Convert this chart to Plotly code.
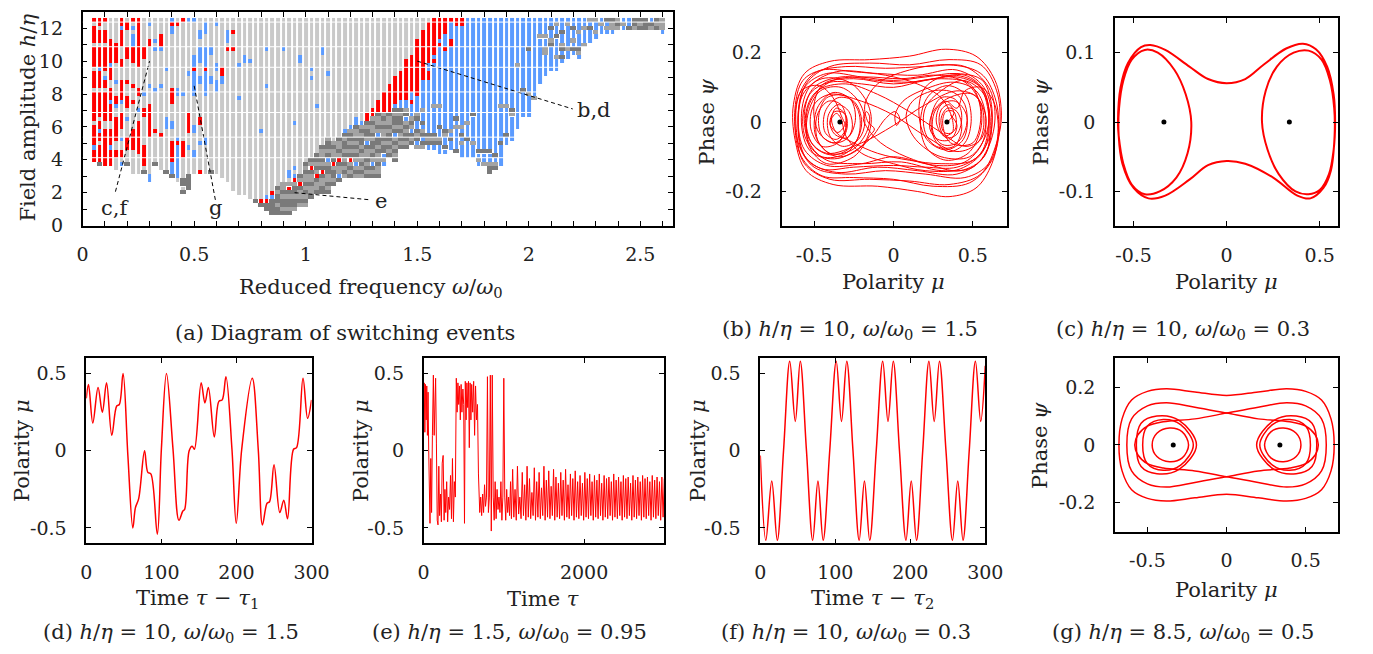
import re
import plotly.graph_objects as go

W, H = 1373, 654
FONT = "DejaVu Serif"
INK = "#222222"
RED = "#ff0000"

# ---------------- (a) diagram of switching events ----------------
# one code per column (omega = 0.05 ... 2.6, step 0.025), run-length coded
# from h = 12.5 downwards in steps of 0.25; below the last run the cell is empty
# l light grey, m mid grey, d dark grey, r red, b blue
omega_first, omega_step = 0.05, 0.025
h_top, h_step, n_rows = 12.5, 0.25, 48
switch_cols = [
    "r1l1r4l1r5l1r4l1r7l1r5b1r3", "r2l1r3l1r5b1r4l1r6l1r2b1r2l1r4d1",
    "r1l2r3l1r6l1b1r2l1r7l2r9", "l5r6b1r3l2r3b1r4l2r4b1r4",
    "l6r5l4b1l3r2b1l2r6l2r2l3", "r2b1r4l3r2l3r5b1l2r4l2b1l2r2l1b1",
    "l1r2l4r3l5r1l3r3l2b1l4r3l3d1", "r1l1b1l1b3r4l5r1l3r1l6r5l6",
    "r12l5r2l3b1l2r8l5", "l7r3l8b1l3r2l7r5l1d1",
    "l1b1l3r2l9b1l4r8l9b2", "l5b1l1b1l9b1l9r1l7d1",
    "l4r3b1l8b1l11r1l8", "l12b1l11b3l10d1",
    "b1r1b2l13r4l4b2l3r5b3d1", "l1r1l15b2l10b1r1b8l1",
    "r1l17b1l11r4l5d2l1d1", "b1l12b1l9r5l3b1l6d4",
    "b1l8b3r1b6l7b2l4b2l4", "l3b2l2b4l3b2l8r2l4b1l6r1",
    "l1b3l3b5r1b6l10b2l7", "l7b2l5b2l21d1",
    "l1b1l9b2l2b3l20", "l12r2b2l23",
    "l3b3l1r1l32", "l3r1l3r1l34",
    "l11b1l7b1l23", "l9b2l32",
    "l10b1l33", "l44d1",
    "l27b1l16r1d1", "l7b1l8b1l26b1r1d2",
    "l42r1b1d4", "l41d1m1d2m1d2",
    "l7b1l32m2d1m1d2m1d1", "l37b2l1m1r1d1m1d2m1d1",
    "l25b1l10b1l1b1r1m1d2m1d2m1", "l9b2l27d1m1r1d1m2d1m1",
    "l35d1m1d1m2d1m1d1m1d1m1", "l12b1l1b1l19d1m1r1d1m2d1m1m1d1",
    "l21b1l11d2m1d1m1r1d1m2d1", "l7b2l22d1m2d1m1d1r1d1m2d2",
    "l13b1l15m1d2m1d1b1m1d2m2d1m1d1", "l30m1d1m2d1r1m1d2m1d1",
    "l29d1m2d1m1r1d1m2b1d1", "l27b1d1m1d2m1d1m1d1m1d1m1",
    "l26b1m1d2m1d1m1d1r1m1d1m1d1", "l24b2d1m2d1m1d1m1d1m1b1m1d1m1",
    "l25b1m1d1m1d2m1d1m2d1m1d1m1", "l23r2d1m1d2m1b1d1m2d1m1d1m1d1",
    "l22r2m1d1m2d1m1d2m1d1m1b1d1m1d1", "l20r3d1m2d1m1b1d2m1d1m2d1m1m1d1",
    "l18r5m1d1m1d1m2d1m1d2b1m1b1", "l16r7d1m2d1m1d2m1d1m1d1",
    "l14r7b1d1m1d2m1d1b1m1d1m1d1m1d1", "l13r7b2d1m1d2m1d1m1d1m1d1",
    "l10r10b2m1d1b1m1d1m1d2m1d1", "l9r9b2r1b3m1d1m1b1d1m1d1",
    "l5r14b4m1d1b2d1m1d1b1m1", "l3r12b7m1b2d1b1m1d1b1d1m1",
    "l1r10b2r2b13d1m1d1b1", "r9b1r1b10m1b6d1m1d1b1",
    "r5b1r1b14m1b4d1b2m1d1b2", "r4b3r1b19d1m1b2d1b1",
    "r1b4r2b20m1b1d1b2", "r2b22d1b1m1b5d1",
    "r2b24m1b1d1b1m1b3", "b25m1b3d1b4",
    "b23d1b6m1b3", "b32d1b1m1b1",
    "b32d1b2m1", "b32d1b2m1d2",
    "b33d1b1m1d1", "b21m1b8d1b5",
    "b21m1b6d1b2", "b22d1m1b6",
    "b11m1b15", "b17d1b6",
    "b7d1b10m1b5", "b19m1",
    "b4m1b11", "b4m1b2m2b5",
    "b2d1b2m1d1b6", "b1m1b2d1b4m1b3",
    "b3d1b2m1d1b1d1b1", "b1m1b5m1b2",
    "b2d1b2m1b1d1b1", "b3m1b3d1m1b1",
    "b2m1b3m1", "m1b1d1b3",
    "m1b2m1b1", "b1m1b2",
    "d1b1m1b1", "d1m2b1",
    "m1d1m1", "b1m1b1",
    "b2d1", "d2m1",
    "d1m1d1", "d3",
    "b1d1m1", "d1m1d1",
    "m3b1",
]
cell_colors = {"l": "#c9c9c9", "r": "#ff0000", "b": "#5b9bff", "m": "#a3a3a3", "d": "#7a7a7a"}
# thin white breaks that run across the raster
row_breaks_h = [12.375, 10.875, 9.625, 8.125, 6.875, 5.375, 4.125]

# dashed pointers: (omega, h) start, end, label, label position
pointers = [
    ((0.147, 2.06), (0.30, 10.0), "c,f", (0.147, 1.06), "center"),
    ((0.595, 1.56), (0.50, 8.5), "g", (0.595, 1.06), "center"),
    ((1.50, 10.0), (2.197, 7.09), "b,d", (2.205, 7.05), "left"),
    ((0.95, 2.0), (1.292, 1.56), "e", (1.30, 1.52), "left"),
]

# ---------------- (b) h/eta = 10, omega/omega0 = 1.5 : (mu, psi) ----------------
fixed_mu = [-0.337, 0.337]
b_path = [
    (0.34, 0.0), (0.38, 0.025), (0.35, 0.05), (0.30, 0.035), (0.29, -0.01), (0.33, -0.045), (0.40, -0.035),
    (0.43, 0.02), (0.39, 0.065), (0.30, 0.07), (0.24, 0.02), (0.26, -0.05), (0.35, -0.085), (0.45, -0.06),
    (0.49, 0.01), (0.45, 0.08), (0.34, 0.105), (0.22, 0.075), (0.17, 0.0), (0.21, -0.075), (0.33, -0.11),
    (0.47, -0.09), (0.55, -0.02), (0.54, 0.06), (0.45, 0.115), (0.28, 0.135), (0.05, 0.125), (-0.18, 0.13),
    (-0.38, 0.12), (-0.51, 0.07), (-0.55, 0.0), (-0.50, -0.07), (-0.38, -0.095), (-0.25, -0.065), (-0.20, 0.0),
    (-0.25, 0.06), (-0.35, 0.07), (-0.43, 0.03), (-0.43, -0.03), (-0.36, -0.05), (-0.30, -0.02), (-0.31, 0.025),
    (-0.37, 0.03), (-0.40, 0.0), (-0.37, -0.035), (-0.29, -0.045), (-0.24, 0.005), (-0.27, 0.065), (-0.38, 0.085),
    (-0.48, 0.04), (-0.49, -0.04), (-0.40, -0.09), (-0.26, -0.08), (-0.17, -0.03), (-0.15, 0.015), (-0.17, 0.03),
    (-0.19, 0.01), (-0.16, -0.02), (-0.08, -0.06), (0.08, -0.10), (0.27, -0.125), (0.45, -0.115), (0.56, -0.06),
    (0.58, 0.02), (0.52, 0.09), (0.38, 0.115), (0.20, 0.095), (0.06, 0.06), (0.01, 0.02), (0.02, -0.01),
    (0.04, 0.01), (0.01, 0.03), (-0.05, 0.01), (-0.15, -0.05), (-0.35, -0.105), (-0.52, -0.085), (-0.58, 0.0),
    (-0.53, 0.10), (-0.36, 0.145), (-0.10, 0.14), (0.15, 0.135), (0.40, 0.15), (0.57, 0.10), (0.62, 0.0),
    (0.57, -0.10), (0.40, -0.15), (0.15, -0.14), (-0.10, -0.13), (-0.36, -0.145), (-0.54, -0.11), (-0.60, -0.02),
    (-0.57, 0.08), (-0.45, 0.125), (-0.28, 0.115), (-0.17, 0.06), (-0.14, 0.0), (-0.20, -0.07), (-0.35, -0.10),
    (-0.47, -0.06), (-0.48, 0.02), (-0.41, 0.06), (-0.33, 0.05), (-0.30, 0.0), (-0.35, -0.03), (-0.40, -0.005),
    (-0.36, 0.025), (-0.33, 0.01), (-0.30, -0.04), (-0.20, -0.09), (0.0, -0.12), (0.20, -0.14), (0.42, -0.135),
    (0.57, -0.08), (0.60, 0.02), (0.53, 0.11), (0.35, 0.135), (0.20, 0.10), (0.16, 0.03), (0.21, -0.05),
    (0.33, -0.08), (0.44, -0.05), (0.46, 0.02), (0.39, 0.06), (0.30, 0.05), (0.27, 0.0), (0.32, -0.04),
    (0.39, -0.02), (0.38, 0.03), (0.33, 0.03), (0.31, -0.005), (0.36, -0.06), (0.50, -0.06), (0.55, 0.03),
    (0.48, 0.11), (0.30, 0.125), (0.10, 0.115), (-0.10, 0.12), (-0.33, 0.13), (-0.50, 0.10), (-0.56, 0.03),
    (-0.53, -0.06), (-0.42, -0.11), (-0.20, -0.12), (0.05, -0.115), (0.30, -0.14), (0.50, -0.13), (0.60, -0.07),
    (0.64, 0.02), (0.60, 0.10), (0.45, 0.16), (0.20, 0.16), (-0.05, 0.155), (-0.30, 0.16), (-0.50, 0.14),
    (-0.60, 0.07), (-0.61, -0.03), (-0.56, -0.12), (-0.40, -0.165), (-0.15, -0.165), (0.10, -0.17), (0.35, -0.18),
    (0.55, -0.15), (0.65, -0.06), (0.68, 0.02), (0.64, 0.12), (0.52, 0.19), (0.33, 0.21), (0.10, 0.19),
    (-0.15, 0.18), (-0.40, 0.175), (-0.56, 0.14), (-0.63, 0.05), (-0.62, -0.05), (-0.55, -0.14), (-0.38, -0.18),
    (-0.10, -0.185), (0.15, -0.20), (0.35, -0.215), (0.52, -0.19), (0.62, -0.12), (0.66, -0.03), (0.63, 0.06),
    (0.55, 0.10), (0.45, 0.09), (0.40, 0.04), (0.33, 0.06), (0.26, 0.03), (0.25, -0.03), (0.31, -0.065),
    (0.40, -0.06), (0.46, -0.01), (0.45, 0.05), (0.38, 0.085), (0.25, 0.09), (0.12, 0.06), (0.08, 0.02),
    (0.10, -0.02), (0.16, -0.06), (0.30, -0.10), (0.48, -0.10), (0.58, -0.04), (0.60, 0.04), (0.55, 0.10),
    (0.40, 0.13), (0.20, 0.12), (0.0, 0.10), (-0.20, 0.11), (-0.40, 0.115), (-0.52, 0.085), (-0.57, 0.02),
    (-0.55, -0.05), (-0.45, -0.10), (-0.30, -0.09), (-0.22, -0.04), (-0.22, 0.03), (-0.30, 0.075), (-0.42, 0.07),
    (-0.47, 0.02), (-0.45, -0.04), (-0.37, -0.06), (-0.30, -0.03), (-0.30, 0.02), (-0.36, 0.04), (-0.39, 0.01),
    (-0.36, -0.03), (-0.25, -0.06), (-0.10, -0.09), (0.10, -0.11), (0.30, -0.12), (0.50, -0.11), (0.60, -0.05),
    (0.62, 0.04), (0.56, 0.12), (0.40, 0.14), (0.20, 0.13), (0.0, 0.12), (-0.20, 0.13), (-0.42, 0.14),
    (-0.56, 0.10), (-0.60, 0.01), (-0.56, -0.08), (-0.42, -0.125), (-0.20, -0.12), (0.0, -0.10), (0.20, -0.12),
    (0.42, -0.14), (0.57, -0.10), (0.61, -0.01), (0.57, 0.08), (0.44, 0.12), (0.30, 0.09), (0.20, 0.04),
    (0.20, -0.03), (0.27, -0.07), (0.38, -0.07), (0.43, -0.02), (0.40, 0.03), (0.34, 0.04), (0.30, 0.01),
    (0.32, -0.03), (0.37, -0.03), (0.37, 0.01), (0.30, 0.07), (0.15, 0.11), (-0.05, 0.135), (-0.25, 0.145),
    (-0.45, 0.15), (-0.57, 0.12), (-0.62, 0.04), (-0.60, -0.06), (-0.50, -0.13), (-0.30, -0.15), (-0.05, -0.14),
    (0.20, -0.15), (0.45, -0.16), (0.60, -0.12), (0.66, -0.03), (0.64, 0.07), (0.55, 0.14), (0.35, 0.165),
    (0.10, 0.15), (-0.10, 0.11), (-0.18, 0.05), (-0.16, 0.0), (-0.12, -0.02), (-0.15, -0.04), (-0.25, -0.10),
    (-0.42, -0.12), (-0.53, -0.07), (-0.54, 0.02), (-0.46, 0.09), (-0.33, 0.10), (-0.22, 0.06), (-0.18, 0.0),
    (-0.22, -0.05), (-0.32, -0.07), (-0.40, -0.04), (-0.41, 0.02), (-0.35, 0.05), (-0.28, 0.03), (-0.26, -0.02),
    (-0.30, -0.05), (-0.38, -0.06), (-0.47, -0.03), (-0.50, 0.05), (-0.44, 0.11), (-0.25, 0.125), (0.0, 0.11),
    (0.25, 0.125), (0.45, 0.135), (0.57, 0.09), (0.60, 0.0), (0.55, -0.09), (0.40, -0.13), (0.20, -0.13),
    (0.0, -0.125), (-0.25, -0.13), (-0.45, -0.135), (-0.57, -0.09), (-0.60, 0.0), (-0.55, 0.11), (-0.40, 0.16),
    (-0.15, 0.17), (0.10, 0.165), (0.35, 0.18), (0.55, 0.165), (0.65, 0.09), (0.67, -0.01), (0.62, -0.11),
    (0.48, -0.175), (0.25, -0.185), (0.0, -0.165), (-0.25, -0.16), (-0.45, -0.155), (-0.58, -0.10), (-0.62, 0.0),
    (-0.58, 0.09), (-0.47, 0.105), (-0.38, 0.07), (-0.33, 0.02), (-0.30, -0.02), (-0.35, -0.06), (-0.45, -0.07),
    (-0.52, -0.02), (-0.50, 0.05), (-0.40, 0.08), (-0.20, 0.06), (0.0, 0.02), (0.20, -0.04), (0.40, -0.085),
    (0.53, -0.06), (0.57, 0.0), (0.53, 0.07), (0.40, 0.09), (0.20, 0.05), (0.0, -0.01), (-0.20, -0.06),
    (-0.42, -0.09), (-0.53, -0.05), (-0.55, 0.03), (-0.48, 0.09), (-0.30, 0.11), (-0.10, 0.08), (0.10, 0.03),
    (0.30, -0.03), (0.45, -0.07), (0.55, -0.05), (0.58, 0.02), (0.50, 0.08), (0.35, 0.07), (0.25, 0.03),
    (0.23, -0.02), (0.28, -0.05), (0.36, -0.05), (0.40, -0.01), (0.36, 0.02),
]

# ---------------- (c) h/eta = 10, omega/omega0 = 0.3 ----------------
c_mu = [-0.584, -0.57, -0.53, -0.46, -0.41, -0.33, -0.20, -0.10, 0.00, 0.10, 0.20, 0.32, 0.41, 0.48, 0.54,
        0.575, 0.583, 0.575, 0.55, 0.50, 0.44, 0.37, 0.28, 0.22, 0.19, 0.21, 0.27, 0.36, 0.44, 0.51,
        0.555, 0.578, 0.58, 0.56, 0.52, 0.45, 0.38, 0.25, 0.10, 0.00, -0.10, -0.20, -0.33, -0.42, -0.50,
        -0.56, -0.58, -0.578, -0.555, -0.51, -0.44, -0.37, -0.28, -0.22, -0.19, -0.21, -0.27, -0.36, -0.44, -0.51,
        -0.555, -0.58, -0.584]
c_psi = [0.000, 0.050, 0.085, 0.108, 0.111, 0.104, 0.080, 0.062, 0.056, 0.062, 0.083, 0.106, 0.113, 0.105, 0.080,
         0.040, 0.000, -0.040, -0.075, -0.098, -0.104, -0.100, -0.075, -0.040, 0.000, 0.045, 0.080, 0.100, 0.103, 0.090,
         0.060, 0.020, -0.020, -0.070, -0.095, -0.110, -0.106, -0.080, -0.060, -0.056, -0.062, -0.083, -0.106, -0.110, -0.095,
         -0.060, -0.020, 0.020, 0.060, 0.090, 0.104, 0.100, 0.075, 0.040, 0.000, -0.045, -0.080, -0.100, -0.104, -0.090,
         -0.060, -0.020, 0.000]

# ---------------- (d) h/eta = 10, omega/omega0 = 1.5 ----------------
d_t = [0, 3, 8.7, 15.7, 21.4, 27, 34, 40.5, 44, 49, 55.4, 62, 65.4, 69.8, 77.6, 82, 86, 94.6, 100, 106.8,
       115.5, 123.4, 128.6, 131, 137, 141, 144, 153, 158, 162.6, 170.5, 176.6, 181, 186, 194, 199.7, 207, 221,
       229, 234.6, 240.7, 244, 250, 257.7, 263, 268, 276, 280, 288.6, 294.7, 300]
d_mu = [0.34, 0.43, 0.18, 0.41, 0.25, 0.44, 0.10, 0.29, 0.30, 0.50, -0.03, -0.50, -0.37, -0.31, 0.0, -0.14,
        -0.15, -0.54, 0.01, 0.50, 0.01, -0.45, -0.39, -0.38, 0.0, 0.03, 0.01, 0.44, 0.31, 0.41, 0.09, 0.32,
        0.33, 0.48, 0.01, -0.47, 0.01, 0.47, 0.01, -0.48, -0.34, -0.33, -0.09, -0.40, -0.32, -0.44, 0.01, 0.02,
        0.47, 0.21, 0.33]

# ---------------- (e) h/eta = 1.5, omega/omega0 = 0.95 ----------------
e_early_t = [0, 8, 16, 24, 32, 40, 48, 56, 64, 72, 80, 90, 100, 110, 122, 132, 142, 150, 160, 170,
             180, 190, 200, 212, 222, 232, 244, 256, 266, 276, 288, 300, 312, 324, 336, 348, 360, 372, 384, 396,
             408, 418, 428, 438, 448, 458, 468, 478, 490, 500, 510, 520, 530, 540, 550, 560, 570, 580, 590, 600,
             612, 624, 636, 648, 660, 672, 684, 700, 712, 724, 736, 748, 760, 772, 784, 796, 808, 820, 832, 844,
             856, 868, 880, 892, 904, 916, 928, 940, 952, 964, 976, 988, 1000, 1012, 1024, 1036, 1048, 1060, 1072, 1084]
e_early_mu = [0.26, 0.44, 0.12, 0.43, 0.20, 0.42, 0.10, 0.38, 0.00, -0.30, -0.47, -0.05, -0.40, 0.10, 0.49, 0.10, 0.30, 0.47, 0.05, -0.45,
              -0.48, -0.10, -0.42, -0.28, -0.46, -0.08, -0.03, -0.45, -0.25, -0.40, -0.20, -0.46, -0.30, -0.38, -0.16, -0.44, -0.05, -0.46, -0.20, -0.30,
              0.47, 0.25, 0.44, 0.30, 0.42, 0.20, 0.43, 0.25, 0.40, 0.30, -0.47, 0.45, 0.20, 0.44, 0.28, 0.45, 0.02, 0.44, 0.20, 0.43,
              0.25, 0.45, 0.10, 0.42, 0.20, 0.30, -0.15, -0.40, -0.30, -0.42, -0.28, -0.40, -0.22, -0.36, -0.30, 0.48, -0.40, -0.30, 0.49, -0.52,
              0.49, -0.30, -0.45, -0.20, -0.44, -0.25, -0.38, -0.30, -0.40, -0.20, -0.45, -0.30, 0.47, -0.30, -0.45, -0.25, -0.40, -0.30, -0.42, -0.20]
e_band_t0, e_band_dt = 1095, 15
e_band_mu = [-0.44, -0.12, -0.43, -0.25, -0.45, -0.10, -0.41, -0.30, -0.44, -0.14, -0.42, -0.22, -0.45, -0.10, -0.43, -0.18,
             -0.44, -0.27, -0.42, -0.11, -0.45, -0.20, -0.43, -0.14, -0.44, -0.24, -0.42, -0.10, -0.45, -0.19, -0.43, -0.13,
             -0.44, -0.23, -0.42, -0.12, -0.45, -0.17, -0.43, -0.21, -0.44, -0.14, -0.42, -0.19, -0.45, -0.12, -0.43, -0.22,
             -0.44, -0.15, -0.42, -0.18, -0.45, -0.13, -0.43, -0.20, -0.44, -0.16, -0.42, -0.21, -0.45, -0.14, -0.43, -0.18,
             -0.44, -0.15, -0.42, -0.20, -0.45, -0.16, -0.43, -0.19, -0.44, -0.15, -0.42, -0.21, -0.45, -0.16, -0.43, -0.18,
             -0.44, -0.17, -0.42, -0.20, -0.45, -0.15, -0.43, -0.19, -0.44, -0.17, -0.42, -0.20, -0.45, -0.16, -0.43, -0.18,
             -0.44, -0.17, -0.42, -0.21, -0.45, -0.16, -0.43, -0.19, -0.44, -0.17, -0.42, -0.20, -0.45, -0.16, -0.43, -0.18,
             -0.44, -0.17, -0.42, -0.20, -0.45, -0.16, -0.43, -0.19, -0.44, -0.17, -0.42, -0.20, -0.45, -0.17, -0.43, -0.18]

# ---------------- (f) h/eta = 10, omega/omega0 = 0.3 ----------------
f_t = [0, 7.4, 15.3, 22.7, 31.0, 39.3, 46.7, 53.3, 61.6, 69.9, 76.9, 83.8, 92.6, 101.3, 108.3, 115.3, 123.6, 131.9, 138.9, 145.9,
       154.6, 163.3, 170.3, 177.3, 185.6, 194.3, 201.3, 208.3, 216.6, 224.9, 231.9, 238.9, 247.6, 256.3, 263.3, 270.3, 278.6, 286.9, 293.9, 300]
f_mu = [-0.03, -0.58, -0.195, -0.58, 0.0, 0.58, 0.19, 0.58, 0.0, -0.58, -0.195, -0.58, 0.0, 0.58, 0.19, 0.58, 0.0, -0.58, -0.195, -0.58,
        0.0, 0.58, 0.19, 0.58, 0.0, -0.58, -0.195, -0.58, 0.0, 0.58, 0.19, 0.58, 0.0, -0.58, -0.195, -0.58, 0.0, 0.58, 0.19, 0.55]

# ---------------- (g) h/eta = 8.5, omega/omega0 = 0.5 ----------------
g_loops = [
    ([-0.68, -0.66, -0.60, -0.50, -0.38, -0.20, 0.00, 0.20, 0.38, 0.50, 0.60, 0.66, 0.68, 0.66, 0.60, 0.50, 0.38, 0.20, 0.00, -0.20, -0.38, -0.50, -0.60, -0.66, -0.68],
     [0.0, 0.09, 0.155, 0.185, 0.194, 0.183, 0.171, 0.183, 0.194, 0.185, 0.155, 0.09, 0.0, -0.09, -0.155, -0.185, -0.194, -0.183, -0.171, -0.183, -0.194, -0.185, -0.155, -0.09, 0.0]),
    ([-0.63, -0.60, -0.50, -0.38, -0.20, 0.00, 0.20, 0.40, 0.50, 0.56, 0.58, 0.56, 0.50, 0.40, 0.20, 0.00, -0.20, -0.38, -0.50, -0.60, -0.63],
     [0.0, 0.09, 0.135, 0.146, 0.13, 0.11, 0.09, 0.08, 0.065, 0.035, 0.0, -0.035, -0.065, -0.08, -0.09, -0.11, -0.13, -0.146, -0.135, -0.09, 0.0]),
    ([0.63, 0.60, 0.50, 0.38, 0.20, 0.00, -0.20, -0.40, -0.50, -0.56, -0.58, -0.56, -0.50, -0.40, -0.20, 0.00, 0.20, 0.38, 0.50, 0.60, 0.63],
     [0.0, 0.09, 0.135, 0.146, 0.13, 0.11, 0.09, 0.08, 0.065, 0.035, 0.0, -0.035, -0.065, -0.08, -0.09, -0.11, -0.13, -0.146, -0.135, -0.09, 0.0]),
    ([-0.47, -0.44, -0.36, -0.28, -0.24, -0.28, -0.36, -0.44, -0.47],
     [0.0, 0.04, 0.058, 0.045, 0.0, -0.045, -0.058, -0.04, 0.0]),
    ([-0.53, -0.50, -0.40, -0.29, -0.21, -0.29, -0.40, -0.50, -0.53],
     [0.0, 0.065, 0.088, 0.07, 0.0, -0.07, -0.088, -0.065, 0.0]),
    ([-0.57, -0.54, -0.44, -0.30, -0.19, -0.30, -0.44, -0.54, -0.57],
     [0.0, 0.075, 0.1, 0.085, 0.0, -0.085, -0.1, -0.075, 0.0]),
    ([0.47, 0.44, 0.36, 0.28, 0.24, 0.28, 0.36, 0.44, 0.47],
     [0.0, 0.04, 0.058, 0.045, 0.0, -0.045, -0.058, -0.04, 0.0]),
    ([0.53, 0.50, 0.40, 0.29, 0.21, 0.29, 0.40, 0.50, 0.53],
     [0.0, 0.065, 0.088, 0.07, 0.0, -0.07, -0.088, -0.065, 0.0]),
    ([0.57, 0.54, 0.44, 0.30, 0.19, 0.30, 0.44, 0.54, 0.57],
     [0.0, 0.075, 0.1, 0.085, 0.0, -0.085, -0.1, -0.075, 0.0]),
]


def decode(code):
    cells = []
    for c, n in re.findall(r"([a-z])(\d+)", code):
        cells += [c] * int(n)
    return cells + ["."] * (n_rows - len(cells))


def px_box(x0, x1, y0, y1):
    return [x0 / W, x1 / W], [1 - y1 / H, 1 - y0 / H]


def frame(dom, rng, anchor, horizontal, **kw):
    d = dict(domain=dom, range=rng, anchor=anchor, showline=True, linecolor="black", linewidth=1.6,
             mirror="ticks", ticks="inside", ticklen=5, tickwidth=1.2, tickcolor="black",
             showgrid=False, zeroline=False, fixedrange=True,
             ticklabelstandoff=11 if horizontal else 14,
             tickfont=dict(family=FONT, size=19, color=INK))
    d.update(kw)
    return d


fig = go.Figure()

# panel (a) raster
cols = [decode(c) for c in switch_cols]
omega_vals = [omega_first + omega_step * k for k in range(len(cols))]
h_vals = [h_top - h_step * j for j in range(n_rows)]
for cat, colour in cell_colors.items():
    z = [[1 if cols[k][j] == cat else None for k in range(len(cols))] for j in range(n_rows)]
    fig.add_trace(go.Heatmap(x=omega_vals, y=h_vals, z=z, zmin=0, zmax=1,
                             colorscale=[[0, colour], [1, colour]], showscale=False,
                             xgap=2 if cat in "lrb" else 0, hoverinfo="skip",
                             xaxis="x", yaxis="y"))

for (x0, y0), (x1, y1), _, _, _ in pointers:
    fig.add_trace(go.Scatter(x=[x0, x1], y=[y0, y1], mode="lines", xaxis="x", yaxis="y",
                             line=dict(color="black", width=1, dash="4px,3px"), hoverinfo="skip"))

# phase portraits
fig.add_trace(go.Scatter(x=[p[0] for p in b_path], y=[p[1] for p in b_path], mode="lines",
                         line=dict(color=RED, width=1, shape="spline"), xaxis="x2", yaxis="y2"))
fig.add_trace(go.Scatter(x=c_mu, y=c_psi, mode="lines", line=dict(color=RED, width=2, shape="spline"),
                         xaxis="x3", yaxis="y3"))
g_x, g_y = [], []
for xs, ys in g_loops:
    g_x += xs + [None]
    g_y += ys + [None]
fig.add_trace(go.Scatter(x=g_x, y=g_y, mode="lines", line=dict(color=RED, width=1.5, shape="spline"),
                         xaxis="x7", yaxis="y7"))
for ax in ("2", "3", "7"):
    fig.add_trace(go.Scatter(x=fixed_mu, y=[0, 0], mode="markers", marker=dict(color="black", size=5),
                             xaxis="x" + ax, yaxis="y" + ax))

# time series
fig.add_trace(go.Scatter(x=d_t, y=d_mu, mode="lines", line=dict(color=RED, width=1.5, shape="spline"),
                         xaxis="x4", yaxis="y4"))
e_t = e_early_t + [e_band_t0 + e_band_dt * i for i in range(len(e_band_mu))]
fig.add_trace(go.Scatter(x=e_t, y=e_early_mu + e_band_mu, mode="lines", line=dict(color=RED, width=1),
                         xaxis="x5", yaxis="y5"))
fig.add_trace(go.Scatter(x=f_t, y=f_mu, mode="lines", line=dict(color=RED, width=1.5, shape="spline"),
                         xaxis="x6", yaxis="y6"))

# axes
a_x, a_y = px_box(78, 679, 12, 229.4)
b_x, b_y = px_box(789.3, 1018.3, 18.3, 230)
c_x, c_y = px_box(1128.7, 1356, 18.3, 230)
d_x, d_y = px_box(81.7, 311, 364.3, 552.7)
e_x, e_y = px_box(425, 670, 364.3, 552.7)
f_x, f_y = px_box(767.7, 996.7, 364.3, 552.7)
g_x_, g_y_ = px_box(1128.7, 1356, 364.3, 540.7)

om_ticks = [i / 10 for i in range(27)]
om_text = [("%g" % v) if i % 5 == 0 else "" for i, v in enumerate(om_ticks)]
h_ticks = list(range(13))
h_text = [str(v) if v % 2 == 0 else "" for v in h_ticks]
pm = dict(tickvals=[-0.5, 0, 0.5], ticktext=["-0.5", "0", "0.5"])
ts = dict(tickvals=[0, 100, 200, 300])
mu_ax = dict(tickvals=[-0.5, 0, 0.5], ticktext=["-0.5", "0", "0.5"])
ps2 = dict(tickvals=[-0.2, 0, 0.2], ticktext=["-0.2", "0", "0.2"])

fig.update_layout(
    xaxis=frame(a_x, [0, 2.647], "y", True, tickvals=om_ticks, ticktext=om_text),
    yaxis=frame(a_y, [0, 13], "x", False, tickvals=h_ticks, ticktext=h_text),
    xaxis2=frame(b_x, [-0.705, 0.712], "y2", True, **pm),
    yaxis2=frame(b_y, [-0.3, 0.3], "x2", False, **ps2),
    xaxis3=frame(c_x, [-0.6, 0.6], "y3", True, **pm),
    yaxis3=frame(c_y, [-0.15, 0.15], "x3", False, tickvals=[-0.1, 0, 0.1], ticktext=["-0.1", "0", "0.1"]),
    xaxis4=frame(d_x, [0, 300], "y4", True, **ts),
    yaxis4=frame(d_y, [-0.6, 0.6], "x4", False, **mu_ax),
    xaxis5=frame(e_x, [0, 3000], "y5", True, tickvals=[0, 2000]),
    yaxis5=frame(e_y, [-0.6, 0.6], "x5", False, **mu_ax),
    xaxis6=frame(f_x, [0, 300], "y6", True, **ts),
    yaxis6=frame(f_y, [-0.6, 0.6], "x6", False, **mu_ax),
    xaxis7=frame(g_x_, [-0.705, 0.706], "y7", True, **pm),
    yaxis7=frame(g_y_, [-0.3, 0.3], "x7", False, **ps2),
)

shapes = [dict(type="line", xref="x", yref="y", x0=0, x1=2.647, y0=hb, y1=hb,
               line=dict(color="white", width=1), layer="above") for hb in row_breaks_h]

ann = []


def label(text, px, py, size=21, angle=0):
    # +6 px: plotly centres the box including the subscript room
    ann.append(dict(text=text, x=px / W, y=1 - (py + 6) / H, xref="paper", yref="paper", showarrow=False,
                    xanchor="center", yanchor="middle", textangle=angle,
                    font=dict(family=FONT, size=size, color=INK)))


HE = "<i>h</i>/<i>η</i>"
OM = "<i>ω</i>/<i>ω</i><sub>0</sub>"
label("Field amplitude " + HE, 22, 114, angle=-90)
label("Reduced frequency " + OM, 372, 287)
label("(a) Diagram of switching events", 345, 333)
for cx, yx, cap in [(903, 713, "(b) " + HE + " = 10, " + OM + " = 1.5"),
                    (1242, 1053, "(c) " + HE + " = 10, " + OM + " = 0.3")]:
    label("Phase <i>ψ</i>", yx, 118, angle=-90)
    label("Polarity <i>μ</i>", cx, 281)
    label(cap, cx - 44, 330)
label("Phase <i>ψ</i>", 1053, 447, angle=-90)
label("Polarity <i>μ</i>", 1242, 594)
label("(g) " + HE + " = 8.5, " + OM + " = 0.5", 1198, 638)
for yx in (17, 362, 705):
    label("Polarity <i>μ</i>", yx, 452, angle=-90)
label("Time <i>τ</i> − <i>τ</i><sub>1</sub>", 195, 603)
label("Time <i>τ</i>", 547, 603)
label("Time <i>τ</i> − <i>τ</i><sub>2</sub>", 882, 603)
label("(d) " + HE + " = 10, " + OM + " = 1.5", 168, 638)
label("(e) " + HE + " = 1.5, " + OM + " = 0.95", 512, 638)
label("(f) " + HE + " = 10, " + OM + " = 0.3", 855, 638)

for _, _, txt, (lx, ly), anc in pointers:
    ann.append(dict(text=txt, x=lx, y=ly, xref="x", yref="y", showarrow=False, xanchor=anc,
                    yanchor="middle", font=dict(family=FONT, size=21, color=INK)))

fig.update_layout(width=W, height=H, margin=dict(l=0, r=0, t=0, b=0), showlegend=False,
                  plot_bgcolor="white", paper_bgcolor="white", annotations=ann, shapes=shapes)

fig.write_html("out.html", config={"displayModeBar": False},
               post_script="document.body.style.margin = '0px';")
